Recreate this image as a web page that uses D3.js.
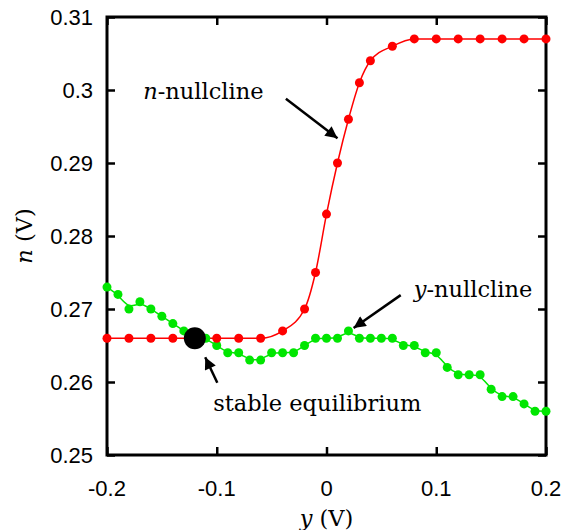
<!DOCTYPE html>
<html>
<head>
<meta charset="utf-8">
<script src="https://cdn.jsdelivr.net/npm/d3@7"></script>
<style>
  body { margin: 0; background: #fff; }
  .tick-label { font-family: "Liberation Sans", Arial, sans-serif; font-size: 22px; }
  .serif { font-family: "DejaVu Serif", serif; font-size: 22.5px; }
</style>
</head>
<body>
<svg id="chart" width="567" height="530"></svg>
<script>
// n-nullcline samples (red)
const nX = [-0.2, -0.18, -0.16, -0.14, -0.12, -0.10, -0.08, -0.06, -0.04, -0.02, -0.01, 0, 0.01, 0.02, 0.03, 0.04, 0.06, 0.08, 0.10, 0.12, 0.14, 0.16, 0.18, 0.2];
const nY = [0.266, 0.266, 0.266, 0.266, 0.266, 0.266, 0.266, 0.266, 0.267, 0.270, 0.275, 0.283, 0.290, 0.296, 0.301, 0.304, 0.306, 0.307, 0.307, 0.307, 0.307, 0.307, 0.307, 0.307];

// y-nullcline samples (green)
const yX = [-0.20, -0.19, -0.18, -0.17, -0.16, -0.15, -0.14, -0.13, -0.12, -0.11, -0.10, -0.09, -0.08, -0.07, -0.06, -0.05, -0.04, -0.03, -0.02, -0.01, 0, 0.01, 0.02, 0.03, 0.04, 0.05, 0.06, 0.07, 0.08, 0.09, 0.10, 0.11, 0.12, 0.13, 0.14, 0.15, 0.16, 0.17, 0.18, 0.19, 0.20];
const yY = [0.273, 0.272, 0.270, 0.271, 0.270, 0.269, 0.268, 0.267, 0.266, 0.266, 0.265, 0.264, 0.264, 0.263, 0.263, 0.264, 0.264, 0.264, 0.265, 0.266, 0.266, 0.266, 0.267, 0.266, 0.266, 0.266, 0.266, 0.265, 0.265, 0.264, 0.264, 0.262, 0.261, 0.261, 0.261, 0.259, 0.258, 0.258, 0.257, 0.256, 0.256];

const equilibrium = { x: -0.12, y: 0.266 };

const xTicks = [-0.2, -0.1, 0, 0.1, 0.2];
const yTicks = [0.25, 0.26, 0.27, 0.28, 0.29, 0.3, 0.31];

// annotations: label anchor, arrow tail, arrow tip (data coords)
const notes = [
  { pre: "n", text: "-nullcline", tx: -0.167, ty: 0.2988, x1: -0.037, y1: 0.2988, x2: 0.010, y2: 0.2934 },
  { pre: "y", text: "-nullcline", tx: 0.0795, ty: 0.2716, x1: 0.0676, y1: 0.2719, x2: 0.0247, y2: 0.2674 },
  { pre: "", text: "stable equilibrium", tx: -0.1032, ty: 0.2560, x1: -0.0995, y1: 0.2599, x2: -0.1105, y2: 0.2634 }
];

const width = 567, height = 530;
const margin = { top: 17, right: 21, bottom: 75, left: 107 };

const svg = d3.select("#chart");

const x = d3.scaleLinear().domain([-0.2, 0.2]).range([margin.left, width - margin.right]);
const y = d3.scaleLinear().domain([0.25, 0.31]).range([height - margin.bottom, margin.top]);

svg.append("defs").append("marker")
  .attr("id", "head")
  .attr("viewBox", "0 0 10 10")
  .attr("refX", 10).attr("refY", 5)
  .attr("markerUnits", "userSpaceOnUse")
  .attr("markerWidth", 14).attr("markerHeight", 12)
  .attr("orient", "auto")
  .append("path").attr("d", "M0,0L10,5L0,10Z").attr("fill", "#000");

// inward ticks on all sides
const tickLen = 8;
svg.append("g").attr("transform", `translate(0,${y(0.25)})`)
  .call(d3.axisBottom(x).tickValues(xTicks).tickSize(-tickLen).tickSizeOuter(0).tickFormat(""))
  .call(g => g.select(".domain").remove());
svg.append("g").attr("transform", `translate(0,${y(0.31)})`)
  .call(d3.axisTop(x).tickValues(xTicks).tickSize(-tickLen).tickSizeOuter(0).tickFormat(""))
  .call(g => g.select(".domain").remove());
svg.append("g").attr("transform", `translate(${x(-0.2)},0)`)
  .call(d3.axisLeft(y).tickValues(yTicks).tickSize(-tickLen).tickSizeOuter(0).tickFormat(""))
  .call(g => g.select(".domain").remove());
svg.append("g").attr("transform", `translate(${x(0.2)},0)`)
  .call(d3.axisRight(y).tickValues(yTicks).tickSize(-tickLen).tickSizeOuter(0).tickFormat(""))
  .call(g => g.select(".domain").remove());
svg.selectAll(".tick line").attr("stroke", "#000").attr("stroke-width", 2.5);

// frame
svg.append("rect")
  .attr("x", x(-0.2)).attr("y", y(0.31))
  .attr("width", x(0.2) - x(-0.2)).attr("height", y(0.25) - y(0.31))
  .attr("fill", "none").attr("stroke", "#000").attr("stroke-width", 3);

// tick labels
svg.append("g").selectAll("text").data(xTicks).join("text")
  .attr("class", "tick-label")
  .attr("x", d => x(d)).attr("y", y(0.25) + 41)
  .attr("text-anchor", "middle")
  .text(d => d3.format("")(d).replace("−", "-"));
svg.append("g").selectAll("text").data(yTicks).join("text")
  .attr("class", "tick-label")
  .attr("x", x(-0.2) - 14).attr("y", d => y(d) + 8)
  .attr("text-anchor", "end")
  .text(d => String(d));

// axis titles
const xt = svg.append("text").attr("class", "serif")
  .attr("x", x(0)).attr("y", height - 4).attr("text-anchor", "middle");
xt.append("tspan").attr("font-style", "italic").text("y");
xt.append("tspan").text(" (V)");
const yt = svg.append("text").attr("class", "serif")
  .attr("transform", `translate(32,${y(0.28)}) rotate(-90)`).attr("text-anchor", "middle");
yt.append("tspan").attr("font-style", "italic").text("n");
yt.append("tspan").text(" (V)");

const nData = nX.map((v, i) => [v, nY[i]]);
const yData = yX.map((v, i) => [v, yY[i]]);

const red = "#ff0000", green = "#00e600";

svg.append("path").datum(yData)
  .attr("fill", "none").attr("stroke", green).attr("stroke-width", 1.5)
  .attr("d", d3.line().x(d => x(d[0])).y(d => y(d[1])).curve(d3.curveBasis));
svg.append("path").datum(nData)
  .attr("fill", "none").attr("stroke", red).attr("stroke-width", 1.5)
  .attr("d", d3.line().x(d => x(d[0])).y(d => y(d[1])).curve(d3.curveMonotoneX));

svg.append("g").selectAll("circle").data(yData).join("circle")
  .attr("cx", d => x(d[0])).attr("cy", d => y(d[1])).attr("r", 4.5).attr("fill", green);
svg.append("g").selectAll("circle").data(nData).join("circle")
  .attr("cx", d => x(d[0])).attr("cy", d => y(d[1])).attr("r", 4.5).attr("fill", red);

svg.append("circle")
  .attr("cx", x(equilibrium.x)).attr("cy", y(equilibrium.y)).attr("r", 11).attr("fill", "#000");

// annotations
notes.forEach(a => {
  const t = svg.append("text").attr("class", "serif").attr("x", x(a.tx)).attr("y", y(a.ty));
  if (a.pre) t.append("tspan").attr("font-style", "italic").text(a.pre);
  t.append("tspan").text(a.text);
  svg.append("line")
    .attr("x1", x(a.x1)).attr("y1", y(a.y1)).attr("x2", x(a.x2)).attr("y2", y(a.y2))
    .attr("stroke", "#000").attr("stroke-width", 2.5).attr("marker-end", "url(#head)");
});
</script>
</body>
</html>
